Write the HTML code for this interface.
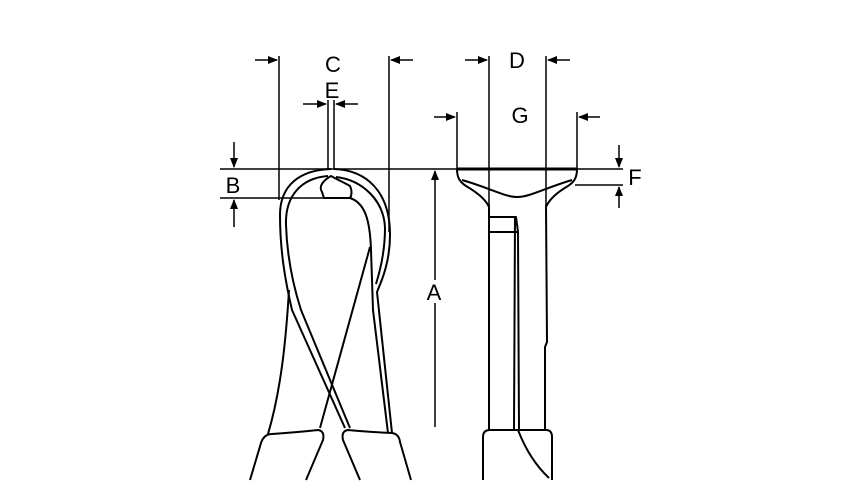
<!DOCTYPE html>
<html><head><style>
html,body{margin:0;padding:0;background:#fff;}
svg{display:block;}
text{font-family:"Liberation Sans",sans-serif;font-size:22px;fill:#000;text-anchor:middle;}
</style></head><body>
<svg width="853" height="502" viewBox="0 0 853 502" xmlns="http://www.w3.org/2000/svg">
<defs>
<marker id="ah" markerWidth="10" markerHeight="8" refX="9" refY="4" orient="auto" markerUnits="userSpaceOnUse">
<path d="M0,0 L10,4 L0,8 Z" fill="#000"/>
</marker>
</defs>
<g stroke="#000" stroke-width="1.5" fill="none">
<line x1="279" y1="56" x2="279" y2="200"/>
<line x1="389" y1="56" x2="389" y2="232"/>
<line x1="255" y1="60" x2="277" y2="60" marker-end="url(#ah)"/>
<line x1="413" y1="60" x2="391" y2="60" marker-end="url(#ah)"/>
<line x1="328" y1="100" x2="328" y2="169"/>
<line x1="334" y1="100" x2="334" y2="169"/>
<line x1="303" y1="104" x2="326" y2="104" marker-end="url(#ah)"/>
<line x1="358" y1="104" x2="336" y2="104" marker-end="url(#ah)"/>
<line x1="220" y1="169" x2="623" y2="169"/>
<line x1="220" y1="198" x2="352" y2="198"/>
<line x1="234" y1="142" x2="234" y2="167" marker-end="url(#ah)"/>
<line x1="234" y1="227" x2="234" y2="200" marker-end="url(#ah)"/>
<line x1="435" y1="280" x2="435" y2="171" marker-end="url(#ah)"/>
<line x1="435" y1="303" x2="435" y2="427"/>
<line x1="489" y1="56" x2="489" y2="205"/>
<line x1="546" y1="56" x2="546" y2="205"/>
<line x1="465" y1="60" x2="487" y2="60" marker-end="url(#ah)"/>
<line x1="570" y1="60" x2="548" y2="60" marker-end="url(#ah)"/>
<line x1="457" y1="112" x2="457" y2="169"/>
<line x1="577" y1="112" x2="577" y2="169"/>
<line x1="434" y1="117" x2="455" y2="117" marker-end="url(#ah)"/>
<line x1="600" y1="117" x2="579" y2="117" marker-end="url(#ah)"/>
<line x1="575" y1="185" x2="623" y2="185"/>
<line x1="619" y1="145" x2="619" y2="167" marker-end="url(#ah)"/>
<line x1="619" y1="208" x2="619" y2="187" marker-end="url(#ah)"/>
</g>
<g stroke="#000" stroke-width="2" fill="none" stroke-linejoin="round">
<path d="M331,169 C300,170 280,185 280,215 C280,250 285,280 292,310 L345,428"/>
<path d="M328,176 C302,178 285,195 286,225 C287,255 293,285 301,310 L350,428"/>
<path d="M334,169 C365,170 390,190 390,235 C390,260 383,278 377,292 L392,433"/>
<path d="M336,177 C362,180 384,200 385,228 C385,250 381,268 376,284"/>
<path d="M322,192 C318,186 324,180 331,176 C338,180 345,183 350,186 C352,190 352,195 350,198 L324,198 Z"/>
<path d="M350,198 C365,203 370,220 371,250 L373,310 L388,433"/>
<path d="M370,247 L320,428"/>
<path d="M289,290 C286,340 281,390 268,434"/>
<path d="M250,480 L261,443 Q264,434 272,434 Q300,432 318,430 Q325,431 323,440 L306,480"/>
<path d="M360,480 L343,440 Q341,431 348,430 Q368,432 392,433 Q399,434 400,442 L411,480"/>
<path d="M457,169 L577,169" stroke-width="3"/>
<path d="M457,169 C457,178 460,182 466,186 C478,193 486,200 489,207"/>
<path d="M577,169 C577,178 574,182 568,186 C556,193 549,200 546,207"/>
<path d="M462,180 C490,188 505,197 517,197 C530,197 545,188 572,180"/>
<path d="M489,205 L489,430"/>
<path d="M546,205 L547,342 L545,347 L545,430"/>
<path d="M489,217 L516,217 L518,232 L489,232"/>
<path d="M515,217 L514,430"/>
<path d="M518,232 L519,430"/>
<path d="M483,480 L483,437 Q483,430 490,430 L546,430 Q552,430 552,437 L552,480"/>
<path d="M518,430 C525,448 535,465 549,478"/>
</g>
<text x="333" y="72">C</text>
<text x="332" y="98">E</text>
<text x="233" y="193">B</text>
<text x="434" y="300">A</text>
<text x="517" y="68">D</text>
<text x="520" y="123">G</text>
<text x="635" y="185">F</text>
</svg>
</body></html>
